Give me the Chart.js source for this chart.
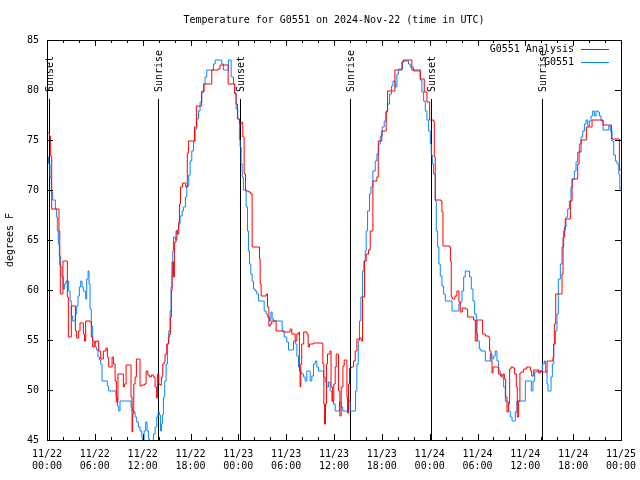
<!DOCTYPE html>
<html>
<head>
<meta charset="utf-8">
<script src="https://cdn.jsdelivr.net/npm/chart.js@4/dist/chart.umd.min.js"></script>
<style>
  body { margin: 0; background: #fff; }
  #wrap { width: 640px; height: 480px; }
</style>
</head>
<body>
<div id="wrap"><canvas id="temp-chart" width="640" height="480"></canvas></div>
<script>
// hours since 11/22 00:00 UTC
const analysisHours = [0, 0.3, 0.46, 0.59, 1.42, 1.5, 1.6, 1.67, 1.92, 2.0, 2.47, 2.55, 2.68, 2.97, 3.05, 3.39, 3.56, 3.72, 3.97, 4.14,
  4.4, 4.56, 4.7, 4.85, 5.4, 5.56, 5.73, 5.93, 6.23, 6.48, 6.74, 7.07, 7.4, 7.57, 7.74, 7.91, 8.16, 8.33, 8.54, 8.7,
  8.9, 9.46, 9.58, 9.7, 9.92, 10.4, 10.54, 10.67, 10.75, 10.88, 11.05, 11.21, 11.5, 11.67, 11.88, 12.22, 12.43, 12.64, 12.85, 13.1,
  13.35, 13.56, 13.72, 13.85, 14.02, 14.18, 14.35, 14.52, 14.69, 14.81, 15.02, 15.23, 15.35, 15.48, 15.6, 15.69, 15.86, 15.98, 16.19, 16.36,
  16.53, 16.61, 16.74, 16.99, 17.24, 17.4, 17.6, 17.74, 18.28, 18.5, 18.74, 19.2, 19.4, 19.7, 20.46, 20.67, 21.46, 21.7, 22.55, 22.72,
  23.4, 23.55, 23.72, 23.89, 24.14, 24.48, 24.56, 24.73, 24.9, 25.27, 25.56, 25.73, 26.53, 26.65, 26.74, 26.86, 27.49, 27.66, 27.83, 28.0,
  28.2, 28.5, 28.74, 29.66, 30.29, 30.5, 30.71, 31.13, 31.34, 31.6, 31.66, 31.75, 31.83, 31.95, 32.2, 32.6, 32.76, 32.93, 33.22, 33.43,
  34.52, 34.6, 34.73, 34.8, 34.93, 35.05, 35.18, 35.5, 35.63, 35.82, 35.98, 36.15, 36.28, 36.44, 36.57, 36.74, 36.9, 37.12, 37.28, 37.49,
  37.62, 37.7, 37.82, 37.95, 38.2, 38.45, 38.66, 38.87, 39.2, 39.41, 39.58, 39.83, 40.04, 40.33, 40.54, 40.88, 41.38, 41.55, 42.0, 42.47,
  42.55, 42.72, 43.39, 43.64, 44.1, 44.52, 44.73, 45.48, 45.77, 46.53, 46.82, 47.15, 47.32, 47.66, 48.0, 48.49, 48.58, 48.7, 49.41, 49.54,
  49.67, 50.5, 50.6, 50.71, 50.84, 51.17, 51.42, 51.67, 51.84, 52.09, 52.51, 52.76, 53.1, 53.5, 53.72, 53.93, 54.47, 54.64, 54.98, 55.4,
  55.52, 55.69, 55.82, 55.94, 56.65, 56.86, 57.2, 57.36, 57.53, 57.7, 57.86, 58.03, 58.2, 58.45, 58.66, 58.87, 58.99, 59.16, 59.32, 59.49,
  59.79, 60.14, 60.42, 60.63, 60.8, 61.05, 61.46, 61.67, 61.88, 62.09, 62.51, 62.72, 63.35, 63.47, 63.56, 63.64, 63.81, 64.4, 64.6, 64.73,
  64.9, 65.0, 65.48, 65.65, 65.86, 66.49, 66.57, 66.74, 66.99, 67.58, 67.66, 68.24, 68.37, 69.6, 69.75, 70.67, 70.8, 71.7, 71.8, 72.0];
const analysisTemps = [75.7, 75.4, 73.4, 68.1, 68.1, 65.9, 62.5, 59.6, 59.6, 62.9, 62.9, 59.3, 55.3, 55.3, 58.4, 58.4, 55.9, 55.2, 55.9, 56.7,
  56.7, 55.6, 54.9, 56.9, 56.8, 55.3, 54.3, 54.8, 54.9, 53.9, 53.1, 53.9, 54.2, 53.3, 52.3, 52.3, 53.3, 52.6, 50.9, 48.8,
  51.6, 51.6, 50.3, 50.6, 52.5, 52.5, 49.3, 45.8, 47.6, 50.6, 51.3, 53.1, 53.1, 50.4, 50.5, 50.6, 51.9, 51.5, 51.3, 51.5,
  51.3, 50.3, 49.2, 51.6, 50.6, 50.5, 51.3, 52.6, 52.8, 53.6, 54.6, 55.3, 55.6, 57.3, 59.9, 62.8, 61.3, 64.8, 65.9, 65.6,
  66.8, 68.6, 70.3, 70.7, 70.7, 70.3, 73.7, 74.9, 74.9, 76.3, 78.4, 78.4, 79.8, 80.6, 80.6, 82.0, 82.1, 82.5, 82.5, 80.6,
  80.6, 79.7, 78.6, 77.1, 76.6, 76.8, 75.3, 71.6, 69.9, 69.8, 69.6, 64.3, 64.3, 63.1, 60.6, 59.4, 59.6, 58.3, 56.4, 56.6,
  56.9, 56.9, 55.9, 55.8, 55.8, 56.1, 55.6, 54.9, 55.6, 55.8, 51.9, 50.3, 52.6, 54.6, 55.8, 55.6, 54.3, 54.6, 54.6, 54.7,
  54.7, 52.6, 48.6, 46.6, 48.6, 52.6, 53.6, 53.9, 50.3, 48.9, 50.6, 52.3, 53.6, 53.6, 49.9, 47.4, 50.3, 52.4, 53.0, 53.0,
  49.3, 47.7, 50.6, 52.2, 52.3, 52.9, 53.9, 55.1, 55.2, 54.9, 59.3, 62.9, 63.6, 64.0, 65.9, 70.9, 71.3, 74.9, 75.9, 75.9,
  77.9, 79.9, 79.9, 82.0, 82.0, 82.8, 83.0, 83.0, 82.0, 82.0, 81.1, 81.1, 79.8, 78.8, 77.0, 76.9, 73.3, 69.0, 68.9, 67.8,
  64.4, 64.3, 62.9, 59.3, 59.1, 59.4, 59.9, 58.8, 57.8, 58.2, 58.1, 57.3, 57.3, 57.0, 54.9, 57.0, 57.0, 55.6, 55.4, 55.3,
  53.9, 52.9, 51.7, 52.3, 51.6, 51.4, 51.6, 51.1, 49.3, 47.8, 48.6, 52.1, 52.3, 52.2, 51.6, 50.3, 47.3, 48.9, 51.7, 51.8,
  52.1, 52.3, 52.3, 51.9, 51.4, 52.0, 52.0, 51.7, 51.9, 51.8, 51.8, 52.9, 52.9, 53.3, 54.6, 56.6, 59.6, 59.6, 61.6, 65.3,
  65.9, 67.1, 67.1, 68.9, 71.1, 71.1, 72.6, 73.8, 75.0, 75.0, 76.3, 76.3, 77.0, 77.0, 76.5, 76.5, 75.1, 75.1, 72.0, 72.0];

const obsHours = [0.05, 0.2, 0.38, 0.54, 0.71, 0.92, 1.05, 1.21, 1.3, 1.42, 1.55, 1.72, 1.88, 2.05, 2.21, 2.38, 2.55, 2.72, 2.89, 3.05,
  3.22, 3.47, 3.56, 3.72, 3.89, 4.06, 4.23, 4.39, 4.56, 4.73, 4.85, 4.98, 5.15, 5.27, 5.4, 5.56, 5.73, 5.9, 6.07, 6.23,
  6.4, 6.57, 6.74, 6.9, 7.4, 7.57, 7.74, 8.54, 8.66, 8.83, 9.0, 9.16, 10.42, 10.54, 10.67, 10.84, 11.05, 11.25, 11.46, 11.67,
  11.88, 12.0, 12.18, 12.38, 12.55, 12.72, 12.85, 13.14, 13.35, 13.56, 13.77, 13.93, 14.1, 14.23, 14.35, 14.48, 14.6, 14.77, 14.94, 15.1,
  15.27, 15.44, 15.56, 15.69, 15.77, 15.86, 16.1, 16.3, 16.5, 16.69, 16.95, 17.11, 17.36, 17.53, 17.78, 17.95, 18.16, 18.37, 18.58, 18.79,
  19.0, 19.2, 19.41, 19.62, 19.83, 20.04, 20.67, 20.88, 21.09, 21.72, 21.93, 22.13, 22.55, 22.76, 22.97, 23.1, 23.39, 23.55, 23.72, 23.93,
  24.14, 24.22, 24.35, 24.48, 24.64, 24.85, 24.98, 25.15, 25.27, 25.4, 25.56, 25.73, 25.9, 26.1, 26.32, 26.53, 27.03, 27.24, 27.49, 27.66,
  27.91, 28.08, 28.24, 28.41, 29.33, 29.5, 29.75, 30.08, 30.29, 30.75, 30.92, 31.13, 31.34, 31.55, 31.75, 31.97, 32.18, 32.38, 32.59, 32.85,
  33.01, 33.22, 33.43, 33.64, 33.85, 34.05, 34.48, 34.69, 34.9, 35.1, 35.31, 35.52, 35.73, 35.94, 36.15, 36.44, 36.69, 36.9, 37.1, 37.62,
  37.82, 38.03, 38.58, 38.7, 38.87, 39.04, 39.2, 39.37, 39.58, 39.75, 39.92, 40.04, 40.21, 40.46, 40.63, 40.88, 41.17, 41.38, 41.59, 41.8,
  42.05, 42.3, 42.51, 42.72, 42.97, 43.22, 43.39, 43.68, 43.89, 44.1, 44.39, 44.6, 45.15, 45.35, 45.56, 45.98, 46.61, 46.82, 47.03, 47.24,
  47.45, 47.66, 47.87, 48.08, 48.2, 48.33, 48.49, 48.7, 48.83, 49.0, 49.16, 49.33, 49.54, 49.75, 49.96, 50.59, 50.8, 51.51, 51.67, 51.84,
  52.05, 52.26, 52.47, 52.8, 53.0, 53.22, 53.43, 53.64, 53.85, 54.02, 54.23, 54.44, 54.85, 54.98, 55.4, 55.6, 55.81, 56.02, 56.23, 56.44,
  56.65, 56.86, 57.07, 57.28, 57.49, 57.7, 57.91, 58.12, 58.33, 58.54, 58.74, 58.95, 59.79, 60.0, 60.54, 60.75, 60.96, 61.17, 61.46, 61.97,
  62.13, 62.38, 62.55, 62.72, 62.84, 63.05, 63.22, 63.39, 63.56, 63.77, 63.97, 64.14, 64.39, 64.6, 64.81, 64.9, 65.1, 65.31, 65.52, 65.73,
  65.9, 66.15, 66.36, 66.57, 66.78, 66.99, 67.2, 67.41, 67.62, 67.83, 68.03, 68.24, 68.45, 68.66, 68.87, 69.08, 69.29, 69.5, 69.75, 70.25,
  70.46, 70.67, 70.88, 71.09, 71.3, 71.51, 71.72, 71.85, 72.0];
const obsTemps = [73.3, 72.6, 71.3, 69.8, 69.0, 69.0, 68.1, 67.3, 65.9, 64.6, 63.4, 62.3, 61.3, 60.1, 60.6, 60.9, 60.9, 59.9, 58.9, 57.4,
  56.9, 56.9, 57.6, 58.4, 59.4, 60.3, 60.9, 60.3, 59.9, 59.9, 59.1, 61.1, 61.9, 60.6, 58.1, 56.4, 54.9, 54.9, 54.3, 54.0,
  53.3, 53.0, 52.6, 50.9, 50.9, 50.4, 49.9, 49.9, 49.3, 48.4, 47.9, 48.9, 48.9, 48.3, 47.9, 47.8, 47.3, 46.8, 46.3, 45.9,
  45.3, 44.9, 45.9, 46.8, 45.9, 45.1, 44.6, 44.6, 45.6, 46.3, 47.3, 47.8, 47.5, 45.9, 46.6, 47.5, 49.3, 50.9, 52.6, 54.6,
  55.9, 57.9, 60.3, 61.9, 63.9, 65.3, 65.0, 66.0, 66.6, 67.4, 67.9, 68.3, 69.3, 70.4, 71.5, 72.9, 73.9, 74.9, 76.1, 77.1,
  77.9, 78.8, 79.9, 80.6, 81.3, 82.0, 82.0, 82.6, 83.0, 83.0, 82.6, 82.0, 82.0, 83.0, 83.0, 81.3, 80.6, 79.6, 78.1, 77.1,
  75.0, 74.3, 72.6, 71.3, 70.0, 70.0, 68.3, 65.9, 63.9, 62.6, 61.6, 60.9, 60.1, 59.9, 59.6, 58.9, 58.9, 57.9, 57.6, 57.3,
  56.9, 57.8, 57.1, 56.9, 56.9, 55.9, 55.3, 54.8, 54.0, 54.0, 54.9, 54.6, 53.4, 52.3, 51.8, 51.6, 51.3, 50.9, 51.9, 51.9,
  50.9, 51.4, 52.6, 52.9, 52.3, 51.9, 51.9, 51.3, 50.8, 50.3, 50.8, 49.9, 48.9, 48.6, 47.9, 47.9, 48.8, 48.3, 47.9, 47.9,
  48.9, 47.9, 47.9, 49.9, 52.6, 54.9, 56.9, 59.3, 61.9, 62.9, 63.9, 65.9, 67.9, 69.6, 70.3, 71.9, 72.9, 73.6, 74.6, 75.4,
  76.3, 76.9, 77.8, 78.6, 79.6, 80.4, 80.9, 80.3, 81.6, 82.1, 82.1, 82.9, 82.9, 82.6, 82.3, 81.9, 81.9, 81.0, 79.8, 78.9,
  77.9, 77.0, 75.9, 74.6, 73.5, 72.6, 71.6, 68.9, 65.9, 64.3, 62.6, 61.4, 60.4, 59.6, 58.9, 58.9, 57.9, 57.9, 58.6, 58.8,
  59.9, 61.3, 61.9, 61.9, 61.3, 60.1, 58.9, 57.6, 55.6, 54.9, 54.1, 53.9, 53.9, 52.9, 52.9, 53.6, 53.1, 53.4, 53.9, 52.9,
  51.9, 51.6, 51.3, 50.3, 48.9, 48.8, 47.9, 47.3, 46.9, 46.9, 47.8, 48.9, 48.9, 50.9, 50.9, 49.9, 50.9, 51.8, 51.9, 51.9,
  52.6, 52.9, 51.9, 50.6, 49.9, 49.9, 51.3, 52.6, 54.6, 55.9, 57.6, 61.1, 62.6, 64.3, 65.9, 66.3, 67.3, 68.1, 68.9, 70.3,
  71.1, 71.9, 72.8, 73.8, 74.6, 75.3, 75.9, 76.6, 77.0, 76.4, 76.9, 77.4, 77.9, 77.4, 77.9, 77.8, 77.4, 76.9, 76.0, 76.0,
  76.4, 75.9, 74.9, 73.5, 72.9, 72.6, 71.6, 70.1, 70.1];

const sunEventNames = ['Sunset', 'Sunrise', 'Sunset', 'Sunrise', 'Sunset', 'Sunrise'];
const sunEventHours = [0.2, 13.97, 24.25, 38.05, 48.2, 62.1];

const xTickLabels = [
  ['11/22', '00:00'], ['11/22', '06:00'], ['11/22', '12:00'], ['11/22', '18:00'],
  ['11/23', '00:00'], ['11/23', '06:00'], ['11/23', '12:00'], ['11/23', '18:00'],
  ['11/24', '00:00'], ['11/24', '06:00'], ['11/24', '12:00'], ['11/24', '18:00'],
  ['11/25', '00:00']
];

const chartTitle = 'Temperature for G0551 on 2024-Nov-22 (time in UTC)';

const MONO = "'DejaVu Sans Mono', 'Liberation Mono', monospace";
Chart.defaults.font.family = MONO;
Chart.defaults.font.size = 10;
Chart.defaults.color = '#000';

const toPoints = (xs, ys) => xs.map((x, i) => ({ x: x, y: ys[i] }));

// frame, inward tick marks, sunrise/sunset markers, title and legend in gnuplot style
const gnuplotBits = {
  id: 'gnuplotBits',
  beforeDatasetsDraw(chart) {
    const { ctx, chartArea: a, scales: { x, y } } = chart;
    ctx.save();
    ctx.strokeStyle = '#000';
    ctx.lineWidth = 1;
    for (let h of sunEventHours) {
      const px = Math.round(x.getPixelForValue(h)) + 0.5;
      ctx.beginPath();
      ctx.moveTo(px, y.getPixelForValue(79.1));
      ctx.lineTo(px, a.bottom);
      ctx.stroke();
    }
    ctx.restore();
  },
  afterDatasetsDraw(chart) {
    const { ctx, chartArea: a, scales: { x, y } } = chart;
    ctx.save();
    ctx.fillStyle = '#000';
    ctx.font = '10px ' + MONO;
    ctx.textBaseline = 'middle';

    // title, centred over the plot area
    ctx.textAlign = 'center';
    ctx.fillText(chartTitle, (a.left + a.right) / 2, 20);

    ctx.textAlign = 'left';
    sunEventHours.forEach((h, i) => {
      ctx.save();
      ctx.translate(x.getPixelForValue(h) + 1.5, y.getPixelForValue(79.8));
      ctx.rotate(-Math.PI / 2);
      ctx.fillText(sunEventNames[i], 0, 0);
      ctx.restore();
    });

    // frame
    ctx.strokeStyle = '#000';
    ctx.lineWidth = 1;
    ctx.strokeRect(Math.round(a.left) + 0.5, Math.round(a.top) + 0.5,
      Math.round(a.right - a.left), Math.round(a.bottom - a.top));

    // x ticks: major every 6h, minor every 2h, top and bottom
    ctx.beginPath();
    for (let h = 0; h <= 72; h += 2) {
      const px = Math.round(x.getPixelForValue(h)) + 0.5;
      const len = h % 6 === 0 ? 6 : 3;
      ctx.moveTo(px, a.bottom); ctx.lineTo(px, a.bottom - len);
      ctx.moveTo(px, a.top); ctx.lineTo(px, a.top + len);
    }
    // y ticks left and right
    for (let v = 45; v <= 85; v += 5) {
      const py = Math.round(y.getPixelForValue(v)) + 0.5;
      ctx.moveTo(a.left, py); ctx.lineTo(a.left + 6, py);
      ctx.moveTo(a.right, py); ctx.lineTo(a.right - 6, py);
    }
    ctx.stroke();

    // legend
    ctx.textAlign = 'right';
    chart.data.datasets.forEach((ds, i) => {
      const ly = 49 + i * 13;
      ctx.fillStyle = '#000';
      ctx.fillText(ds.label, 574, ly);
      ctx.strokeStyle = ds.borderColor;
      ctx.beginPath();
      ctx.moveTo(581, ly + 0.5);
      ctx.lineTo(609, ly + 0.5);
      ctx.stroke();
    });
    ctx.restore();
  }
};

new Chart(document.getElementById('temp-chart'), {
  type: 'line',
  data: {
    datasets: [
      {
        label: 'G0551 Analysis',
        data: toPoints(analysisHours, analysisTemps),
        borderColor: '#ff0000',
        borderWidth: 1,
        pointRadius: 0,
        stepped: true,
        fill: false
      },
      {
        label: 'G0551',
        data: toPoints(obsHours, obsTemps),
        borderColor: '#0a86ff',
        borderWidth: 1,
        pointRadius: 0,
        stepped: true,
        fill: false
      }
    ]
  },
  options: {
    responsive: false,
    animation: false,
    events: [],
    layout: { padding: { left: 0, right: 19, top: 40, bottom: 0 } },
    plugins: {
      legend: { display: false },
      tooltip: { enabled: false },
      title: { display: false }
    },
    scales: {
      x: {
        type: 'linear',
        min: 0,
        max: 72,
        grid: { display: false, drawTicks: false },
        border: { display: false },
        ticks: {
          stepSize: 6,
          autoSkip: false,
          maxRotation: 0,
          padding: 8,
          font: { size: 10, lineHeight: 1.25 },
          callback: v => xTickLabels[Math.round(v / 6)]
        },
        afterFit: s => { s.height = 40; s.paddingLeft = 0; s.paddingRight = 0; }
      },
      y: {
        min: 45,
        max: 85,
        grid: { display: false, drawTicks: false },
        border: { display: false },
        ticks: { stepSize: 5, padding: 8 },
        title: { display: true, text: 'degrees F', font: { size: 10, lineHeight: 1.2 } },
        afterFit: s => { s.width = 47; }
      }
    }
  },
  plugins: [gnuplotBits]
});
</script>
</body>
</html>
